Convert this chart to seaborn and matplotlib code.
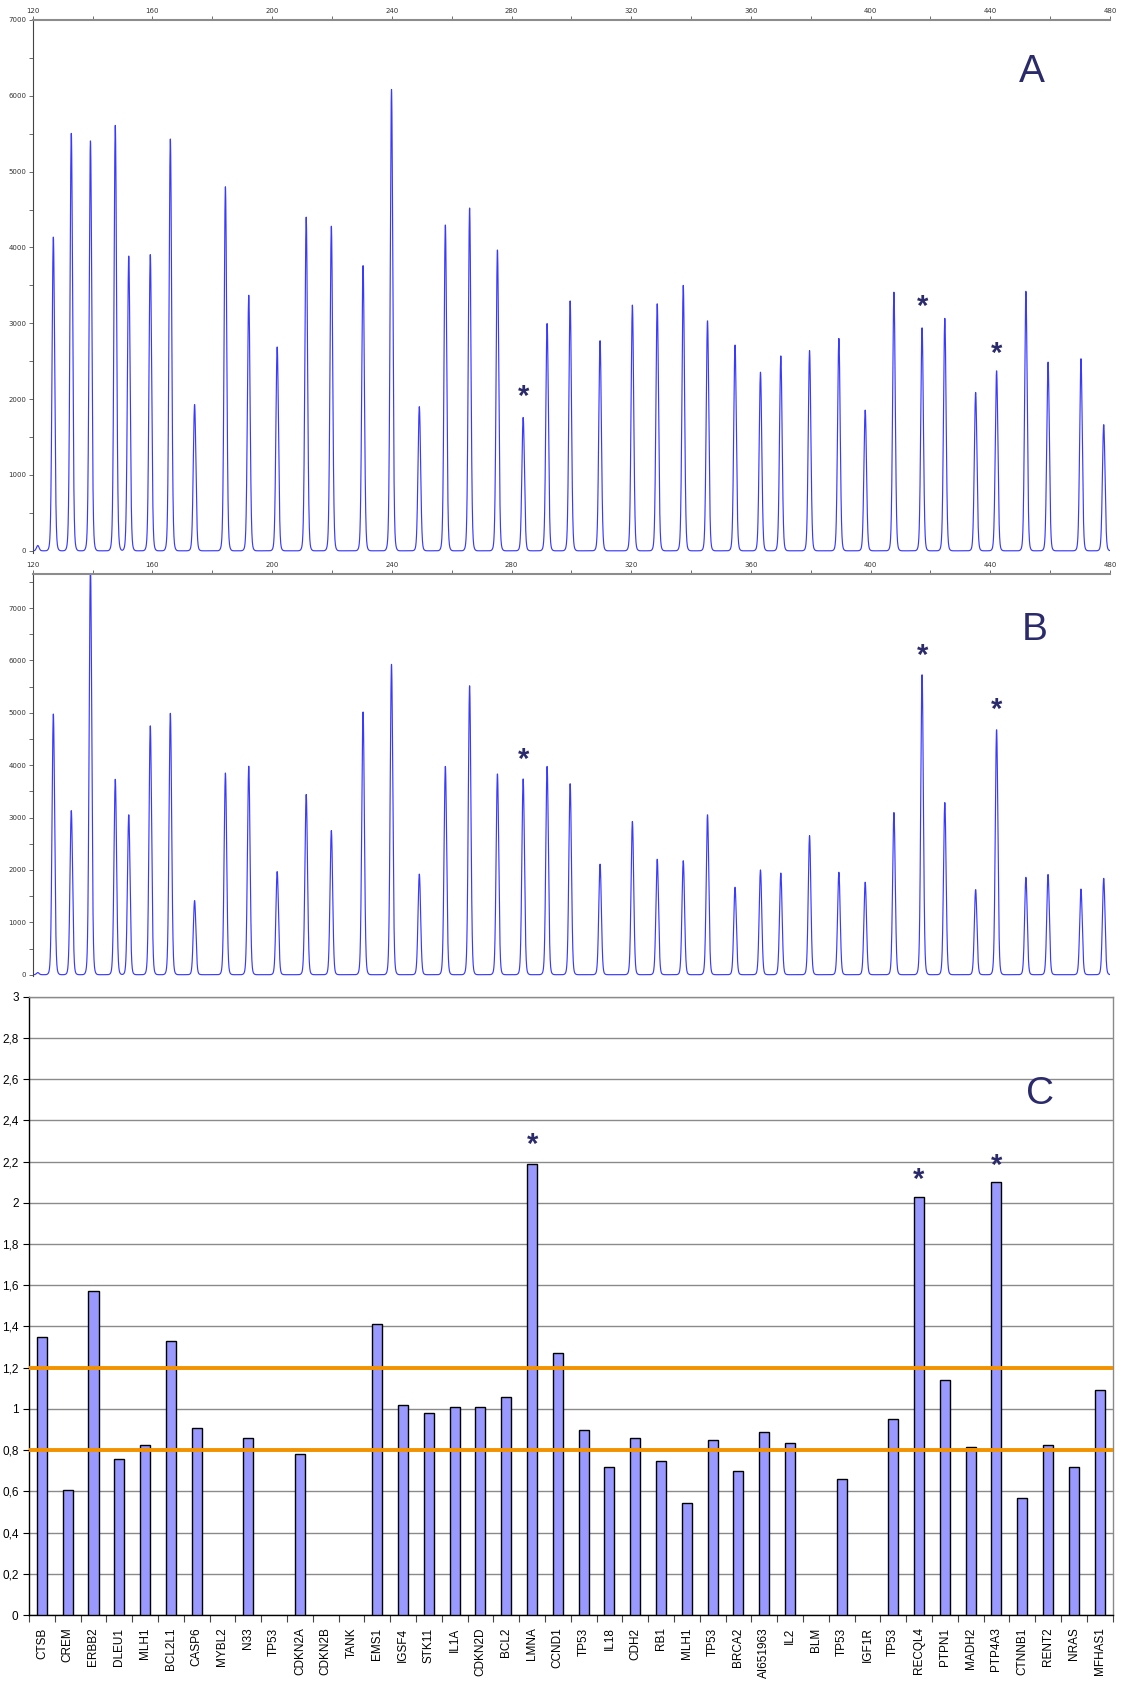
import numpy as np
import pandas as pd
import matplotlib
matplotlib.use("Agg")
import matplotlib.pyplot as plt
import seaborn as sns
from matplotlib.ticker import MultipleLocator, FuncFormatter, FixedLocator

# ---------------- data ----------------
# fragment sizes (bp) of the electropherogram peaks (shared by panels A and B)
peak_sizes = [121.7, 126.9, 132.9, 139.3, 147.6, 152.1, 159.3, 166.0, 174.1, 184.4,
              192.2, 201.7, 211.4, 219.8, 230.4, 239.9, 249.2, 257.9, 266.0, 275.3,
              283.9, 291.9, 299.6, 309.6, 320.4, 328.7, 337.4, 345.5, 354.7, 363.2,
              370.0, 379.6, 389.4, 398.2, 407.8, 417.2, 424.8, 435.1, 442.1, 451.9,
              459.3, 470.3, 477.9]
# peak heights, panel A (reference sample)
a_heights = [70, 4140, 5510, 5410, 5610, 3890, 3910, 5430, 1930, 4800,
             3370, 2690, 4400, 4280, 3760, 6090, 1900, 4300, 4520, 3970,
             1760, 3000, 3295, 2770, 3240, 3260, 3500, 3035, 2715, 2355,
             2570, 2640, 2800, 1855, 3410, 2940, 3065, 2090, 2375, 3425,
             2490, 2535, 1665]
# peak heights, panel B (tumour sample)
b_heights = [40, 4980, 3135, 7800, 3730, 3055, 4755, 4990, 1415, 3850,
             3980, 1970, 3440, 2750, 5015, 5930, 1920, 3980, 5515, 3835,
             3740, 3980, 3645, 2110, 2925, 2205, 2175, 3055, 1670, 2000,
             1940, 2655, 1955, 1765, 3095, 5725, 3285, 1625, 4680, 1860,
             1915, 1635, 1840]
# starred peaks: (size, height of the star)
a_stars = [(283.9, 2141), (417.2, 3325), (442.2, 2711)]
b_stars = [(283.9, 4265), (417.5, 6252), (442.2, 5206)]

# panel C: dosage ratios per probe
genes = ["CTSB", "CREM", "ERBB2", "DLEU1", "MLH1", "BCL2L1", "CASP6", "MYBL2", "N33", "TP53",
         "CDKN2A", "CDKN2B", "TANK", "EMS1", "IGSF4", "STK11", "IL1A", "CDKN2D", "BCL2", "LMNA",
         "CCND1", "TP53", "IL18", "CDH2", "RB1", "MLH1", "TP53", "BRCA2", "AI651963", "IL2",
         "BLM", "TP53", "IGF1R", "TP53", "RECQL4", "PTPN1", "MADH2", "PTP4A3", "CTNNB1", "RENT2",
         "NRAS", "MFHAS1"]
ratios = [1.35, 0.605, 1.57, 0.755, 0.825, 1.33, 0.905, np.nan, 0.86, np.nan,
          0.78, np.nan, np.nan, 1.41, 1.02, 0.98, 1.01, 1.01, 1.06, 2.19,
          1.27, 0.90, 0.72, 0.86, 0.745, 0.545, 0.85, 0.70, 0.89, 0.835,
          np.nan, 0.66, np.nan, 0.95, 2.03, 1.14, 0.815, 2.10, 0.57, 0.825,
          0.72, 1.09]
c_star_genes = [19, 34, 37]          # LMNA, RECQL4, PTP4A3
c_star_levels = [2.32, 2.15, 2.22]
lower_limit, upper_limit = 0.8, 1.2

# ---------------- style ----------------
sns.set_theme(style="white")
plt.rcParams['font.family'] = ['Liberation Sans', 'DejaVu Sans']
navy = "#2b2b6b"
trace_col = "#3a3aff"

W, H = 1121, 1686
fig = plt.figure(figsize=(W / 100, H / 100), dpi=100)
fig.patch.set_facecolor("white")

axA = fig.add_axes([32.7 / W, 1 - 552.7 / H, (1110 - 32.7) / W, (552.7 - 20) / H])
axB = fig.add_axes([32.7 / W, 1 - 976 / H, (1110 - 32.7) / W, (976 - 574) / H])
axC = fig.add_axes([29 / W, 1 - 1615 / H, (1112.5 - 29) / W, (1615 - 996.7) / H])

size_grid = np.arange(120, 480.001, 0.04)


def trace(heights):
    sig = np.zeros_like(size_grid)
    for mu, h in zip(peak_sizes, heights):
        sig += 0.93 * h * np.exp(-0.5 * ((size_grid - mu) / 0.42) ** 2)
        sig += 0.07 * h * np.exp(-0.5 * ((size_grid - mu) / 0.75) ** 2)
    return sig


for ax, heights, ytop, stars, letter, lpos in (
        (axA, a_heights, 7000, a_stars, "A", (454, 6317)),
        (axB, b_heights, 7650, b_stars, "B", (454.7, 6582))):
    df = pd.DataFrame({"size": size_grid, "signal": trace(heights)})
    sns.lineplot(data=df, x="size", y="signal", ax=ax, color=trace_col,
                 linewidth=0.85, estimator=None, sort=False)
    ax.set_xlim(120, 480)
    ax.set_ylim(-25, ytop)
    ax.set_xlabel("")
    ax.set_ylabel("")
    ax.xaxis.tick_top()
    ax.xaxis.set_label_position("top")
    ax.xaxis.set_major_locator(MultipleLocator(40))
    ax.xaxis.set_minor_locator(MultipleLocator(20))
    ax.yaxis.set_major_locator(FixedLocator(list(range(0, ytop + 1, 1000))))
    ax.yaxis.set_minor_locator(MultipleLocator(500))
    ax.tick_params(which="both", direction="out", length=3, width=0.6,
                   colors="#555555", labelsize=5, pad=1.5, labelcolor="#333333",
                   top=True, left=True, bottom=False)
    for lab in ax.get_xticklabels() + ax.get_yticklabels():
        lab.set_family("DejaVu Sans")
    ax.spines["left"].set_color("#444444")
    ax.spines["left"].set_linewidth(0.8)
    ax.spines["top"].set_color("#8c8c8c")
    ax.spines["top"].set_linewidth(1.5)
    ax.spines["right"].set_visible(False)
    ax.spines["bottom"].set_visible(False)
    ax.set_facecolor("white")
    for sx, sy in stars:
        ax.annotate("*", (sx, sy), xytext=(0, -6), textcoords="offset points",
                    ha="center", va="center", fontsize=21, fontweight="bold", color=navy)
    ax.text(lpos[0], lpos[1], letter, ha="center", va="center", fontsize=28, color=navy)

# ---------------- panel C ----------------
slots = [f"s{i}" for i in range(len(genes))]
dfc = pd.DataFrame({"slot": slots, "ratio": ratios}).dropna()
sns.barplot(data=dfc, x="slot", y="ratio", order=slots, ax=axC, color="#9999ff",
            edgecolor="black", linewidth=1.0, width=0.39, saturation=1,
            errorbar=None, zorder=3)
axC.set_xlim(-0.5, len(genes) - 0.5)
axC.set_ylim(0, 3)
axC.set_xlabel("")
axC.set_ylabel("")
axC.set_xticks(range(len(genes)))
axC.set_xticklabels(genes, rotation=90, fontsize=8.5)
axC.xaxis.set_minor_locator(FixedLocator([i + 0.5 for i in range(-1, len(genes))]))
axC.tick_params(axis="x", which="major", length=0, pad=9, labelsize=8.5, colors="black")
axC.tick_params(axis="x", which="minor", bottom=True, length=5, width=0.8, color="#444444")
axC.yaxis.set_major_locator(MultipleLocator(0.2))


def comma_fmt(v, pos):
    if abs(v - round(v)) < 1e-9:
        return str(int(round(v)))
    return f"{v:.1f}".replace(".", ",")


axC.yaxis.set_major_formatter(FuncFormatter(comma_fmt))
axC.tick_params(axis="y", which="major", left=True, length=4, width=0.8,
                color="black", labelsize=8.5, pad=3.5, labelcolor="black")
axC.yaxis.grid(True, color="#8a8a8a", linewidth=1.0)
axC.xaxis.grid(False)
axC.set_axisbelow(True)
for side in ("left", "bottom"):
    axC.spines[side].set_color("black")
    axC.spines[side].set_linewidth(1.0)
for side in ("top", "right"):
    axC.spines[side].set_color("#8a8a8a")
    axC.spines[side].set_linewidth(1.0)
axC.axhline(upper_limit, color="#f39200", linewidth=2.8, zorder=4)
axC.axhline(lower_limit, color="#f39200", linewidth=2.8, zorder=4)
for gi, lv in zip(c_star_genes, c_star_levels):
    axC.annotate("*", (gi, lv), xytext=(0, -6), textcoords="offset points",
                 ha="center", va="center", fontsize=21, fontweight="bold", color=navy)
axC.text(38.7, 2.53, "C", ha="center", va="center", fontsize=28, color=navy)

fig.savefig("out.png", dpi=100, facecolor="white")
